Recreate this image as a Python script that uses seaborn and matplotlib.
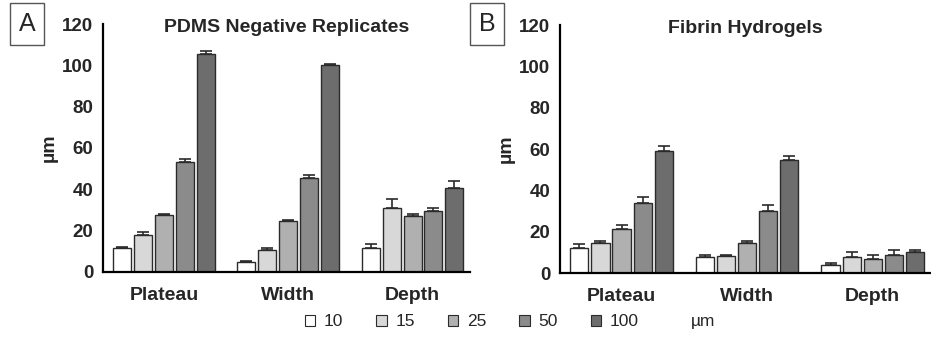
import numpy as np
import pandas as pd
import matplotlib.pyplot as plt
import seaborn as sns
from matplotlib.patches import Patch

# ── DATA ──────────────────────────────────────────────────────────────────────
CATEGORIES = ["Plateau", "Width", "Depth"]
SIZES = ["10", "15", "25", "50", "100"]

# PDMS negative replicates (mean, upper error) per size, ordered as CATEGORIES
PDMS_MEAN = {
    "10":  [11.8, 4.9, 11.5],
    "15":  [17.9, 10.5, 30.9],
    "25":  [27.5, 24.6, 27.1],
    "50":  [53.3, 45.7, 29.7],
    "100": [105.5, 100.4, 40.7],
}
PDMS_ERR = {
    "10":  [0.5, 0.3, 1.9],
    "15":  [1.6, 1.3, 4.3],
    "25":  [0.4, 0.4, 0.9],
    "50":  [1.5, 1.4, 1.3],
    "100": [1.2, 0.3, 3.2],
}

# Fibrin hydrogels
FIBRIN_MEAN = {
    "10":  [12.1, 7.7, 3.7],
    "15":  [14.3, 8.0, 7.6],
    "25":  [21.2, 14.3, 6.8],
    "50":  [33.8, 30.2, 8.8],
    "100": [59.0, 54.5, 10.1],
}
FIBRIN_ERR = {
    "10":  [1.9, 0.8, 1.1],
    "15":  [1.1, 0.7, 2.4],
    "25":  [1.8, 1.3, 1.9],
    "50":  [2.9, 2.8, 2.5],
    "100": [2.3, 2.0, 1.2],
}

PALETTE = ["#ffffff", "#d8d8d8", "#b0b0b0", "#8b8b8b", "#6d6d6d"]
EDGE = "#2b2b2b"


def to_long(means, errs):
    rows = []
    for s in SIZES:
        for c, m, e in zip(CATEGORIES, means[s], errs[s]):
            rows.append({"category": c, "size": s, "value": m, "err": e})
    return pd.DataFrame(rows)


def draw_panel(ax, df, title):
    sns.barplot(data=df, x="category", y="value", hue="size",
                order=CATEGORIES, hue_order=SIZES, palette=PALETTE,
                width=0.84, gap=0.14, errorbar=None, legend=False,
                edgecolor=EDGE, linewidth=1.0, ax=ax)

    # upper-only error bars at each bar's centre
    for s, cont in zip(SIZES, ax.containers):
        sub = df[df["size"] == s].set_index("category").loc[CATEGORIES]
        xs = [p.get_x() + p.get_width() / 2 for p in cont.patches]
        ax.errorbar(xs, sub["value"].values,
                    yerr=[np.zeros(len(xs)), sub["err"].values],
                    fmt="none", ecolor=EDGE, elinewidth=1.2,
                    capsize=4.5, capthick=1.2, zorder=1)

    ax.set_ylim(0, 120)
    ax.set_yticks(range(0, 121, 20))
    ax.set_xlim(-0.49, 2.46)
    ax.set_xlabel("")
    ax.set_ylabel("µm", fontsize=14, fontweight="bold", labelpad=3)
    ax.set_title(title, fontsize=14, fontweight="bold", pad=-6, y=1.0)
    for sp in ["top", "right"]:
        ax.spines[sp].set_visible(False)
    for sp in ["left", "bottom"]:
        ax.spines[sp].set_linewidth(1.6)
        ax.spines[sp].set_color("black")
    ax.tick_params(axis="y", length=5, width=1.4, labelsize=13.5, pad=2)
    ax.tick_params(axis="x", length=8, width=1.8, labelsize=14, pad=3)
    for lbl in ax.get_xticklabels() + ax.get_yticklabels():
        lbl.set_fontweight("bold")


sns.set_style("white")
plt.rcParams["font.family"] = ["Liberation Sans", "DejaVu Sans"]

fig = plt.figure(figsize=(9.31, 3.53), dpi=100)
ax_a = fig.add_axes([0.1106, 0.2295, 0.394, 0.7025])
ax_b = fig.add_axes([0.6015, 0.2266, 0.398, 0.7025])

draw_panel(ax_a, to_long(PDMS_MEAN, PDMS_ERR), "PDMS Negative Replicates")
draw_panel(ax_b, to_long(FIBRIN_MEAN, FIBRIN_ERR), "Fibrin Hydrogels")

# boxed panel letters
for x, letter in [(0.029, "A"), (0.523, "B")]:
    fig.text(x, 0.932, letter, fontsize=18, ha="center", va="center",
             bbox=dict(boxstyle="square,pad=0.35", facecolor="white",
                       edgecolor="#555555", linewidth=1.0))

handles = [Patch(facecolor=c, edgecolor=EDGE, linewidth=0.8) for c in PALETTE]
handles.append(Patch(facecolor="none", edgecolor="none"))
fig.legend(handles, SIZES + ["µm"], loc="center", bbox_to_anchor=(0.548, 0.088),
           ncol=6, frameon=False, fontsize=12.5, handlelength=0.6,
           handleheight=0.6, handletextpad=0.5, columnspacing=1.9)

fig.savefig("out.png", dpi=100)
